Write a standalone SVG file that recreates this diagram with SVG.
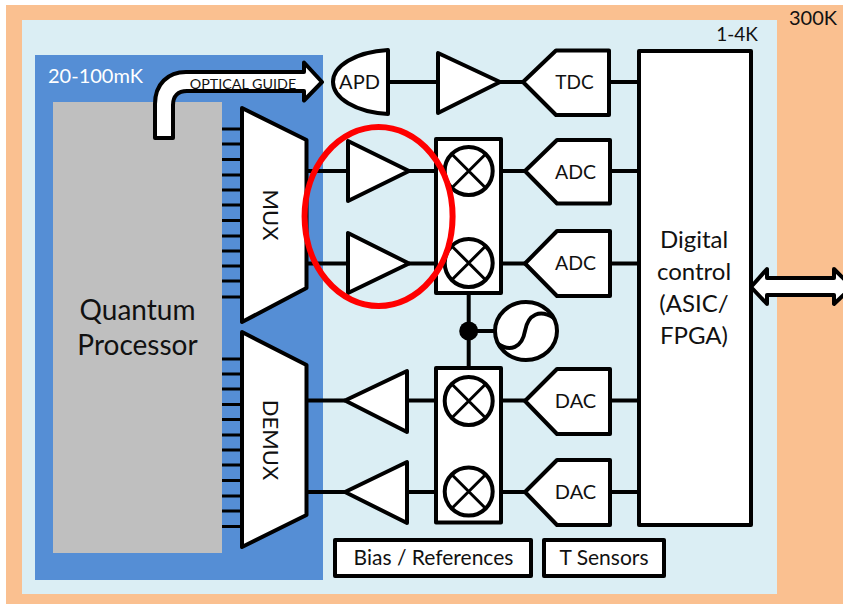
<svg xmlns="http://www.w3.org/2000/svg" width="843" height="604" viewBox="0 0 843 604">
<style>
text{font-family:"Lato","Open Sans","Liberation Sans",sans-serif;fill:#111}
.s{fill:#fff;stroke:#000;stroke-width:4;stroke-linejoin:round}
.l{fill:none;stroke:#000;stroke-width:4}
.t{stroke:#000;stroke-width:3.2;fill:none}
.x{stroke:#000;stroke-width:3;fill:none}
.m{text-anchor:middle}
</style>
<defs>
<g id="mixer"><circle class="s" r="24"/><path class="x" d="M-17-17 17 17M-17 17 17-17"/></g>
</defs>
<g id="backgrounds">
<rect x="0" y="0" width="843" height="604" fill="#fff"/>
<rect x="6" y="5" width="837" height="599" fill="#fac090"/>
<rect x="22" y="20" width="755" height="574" fill="#dbeef4"/>
<rect x="35" y="55" width="288" height="525" fill="#558ed5"/>
<text x="48" y="83" font-size="20" style="fill:#fff">20-100mK</text>
<text x="737" y="41" font-size="19" class="m">1-4K</text>
<text x="813" y="25" font-size="20" class="m">300K</text>
</g>
<g id="connectors">
<path class="t" d="M222 129H242M222 144H242M222 159.500H242M222 175H242M222 190H242M222 205H242M222 220.500H242M222 236H242M222 251H242M222 266H242M222 281H242M222 297H242"/>
<path class="t" d="M222 359H242M222 374H242M222 389H242M222 404.500H242M222 419.500H242M222 435H242M222 450H242M222 465H242M222 480.500H242M222 496H242M222 511H242M222 526.500H242"/>
<path class="l" d="M306 171H348M306 263.500H348M409 171H437M409 263.500H437M501 171H525M501 263.500H525M610 171H639M610 263.500H639M388 82H438M500 82H523M609 82H639"/>
<path class="l" d="M468.700 293V368M468.700 331H495"/>
<path class="l" d="M306 400.500H345M306 492H345M407 400.500H436M407 492H436M501 400.500H525M501 492H525M610 400.500H639M610 492H639"/>
<circle cx="468.700" cy="331" r="9.500" fill="#000"/>
</g>
<g id="quantum-processor">
<rect x="53" y="102" width="169" height="451" fill="#bfbfbf"/>
<text x="137.500" y="320" font-size="28" class="m">Quantum</text>
<text x="137.500" y="355" font-size="28" class="m">Processor</text>
</g>
<g id="optical-guide">
<path class="s" d="M155 138V104C155 84 168 72 186 72H304V62.500L322 82 304 100.500V91H187C178 91 173 96 173 105V138Z"/>
<text x="243" y="89" font-size="14.300" class="m">OPTICAL GUIDE</text>
</g>
<g id="mux">
<path class="s" d="M242 108 306.500 140V288L242 322Z"/>
<text class="m" font-size="22" transform="translate(263 215) rotate(90)">MUX</text>
</g>
<g id="demux">
<path class="s" d="M242 332 306.500 365V515L242 547Z"/>
<text class="m" font-size="22" transform="translate(263 440) rotate(90)">DEMUX</text>
</g>
<g id="apd">
<path class="s" d="M388 50V114C355 112 333 98 333 82 333 66 355 52 388 50Z"/>
<text x="359.500" y="89" font-size="20" class="m">APD</text>
</g>
<g id="amp-apd"><path class="s" d="M438 53V113L500 82Z"/></g>
<g id="tdc">
<path class="s" d="M523 82 556 50.500H609V115H556Z"/>
<text x="574.500" y="89" font-size="19" class="m">TDC</text>
</g>
<g id="amp-rx1"><path class="s" d="M348 141V201L409 171Z"/></g>
<g id="amp-rx2"><path class="s" d="M348 233V293L409 263.500Z"/></g>
<g id="mixer-rx">
<rect class="s" x="436" y="139" width="65" height="154"/>
<use href="#mixer" x="468.700" y="171"/>
<use href="#mixer" x="468.700" y="263"/>
</g>
<g id="adc1">
<path class="s" d="M525 171 557 140H610V203.500H557Z"/>
<text x="575.500" y="178.500" font-size="19.500" class="m">ADC</text>
</g>
<g id="adc2">
<path class="s" d="M525 263.500 557 231H610V296H557Z"/>
<text x="575.500" y="270" font-size="19.500" class="m">ADC</text>
</g>
<g id="oscillator">
<ellipse class="s" cx="526" cy="331" rx="31" ry="29"/>
<path class="l" d="M498 344C510 352 522 348 525 331 528 314 540 309 554 318"/>
</g>
<g id="mixer-tx">
<rect class="s" x="436" y="368" width="65" height="154.500"/>
<use href="#mixer" x="468.700" y="401"/>
<use href="#mixer" x="468.700" y="491.500"/>
</g>
<g id="amp-tx1"><path class="s" d="M345 400.500 407 371V432Z"/></g>
<g id="amp-tx2"><path class="s" d="M345 492 407 462V523Z"/></g>
<g id="dac1">
<path class="s" d="M525 401 557 369H610V434H557Z"/>
<text x="575.500" y="408" font-size="20" class="m">DAC</text>
</g>
<g id="dac2">
<path class="s" d="M525 492 557 460H610V525H557Z"/>
<text x="575.500" y="499" font-size="20" class="m">DAC</text>
</g>
<g id="digital-control">
<rect class="s" x="639" y="51" width="112" height="474"/>
<text x="694" y="248" font-size="24" class="m">Digital</text>
<text x="694" y="280" font-size="24" class="m">control</text>
<text x="694" y="312" font-size="24" class="m">(ASIC/</text>
<text x="694" y="344" font-size="24" class="m">FPGA)</text>
</g>
<g id="io-arrow">
<path class="s" d="M751 287 767 269V278H834V269L852 287 834 304V295H767V304Z"/>
</g>
<g id="bias">
<rect class="s" x="335" y="540" width="196" height="36"/>
<text x="433.500" y="565" font-size="21" class="m">Bias / References</text>
</g>
<g id="t-sensors">
<rect class="s" x="544" y="540" width="120" height="36"/>
<text x="604" y="565" font-size="21" class="m">T Sensors</text>
</g>
<g id="highlight">
<ellipse cx="378.600" cy="216.500" rx="74" ry="89.500" fill="none" stroke="#f00" stroke-width="6"/>
</g>
</svg>
